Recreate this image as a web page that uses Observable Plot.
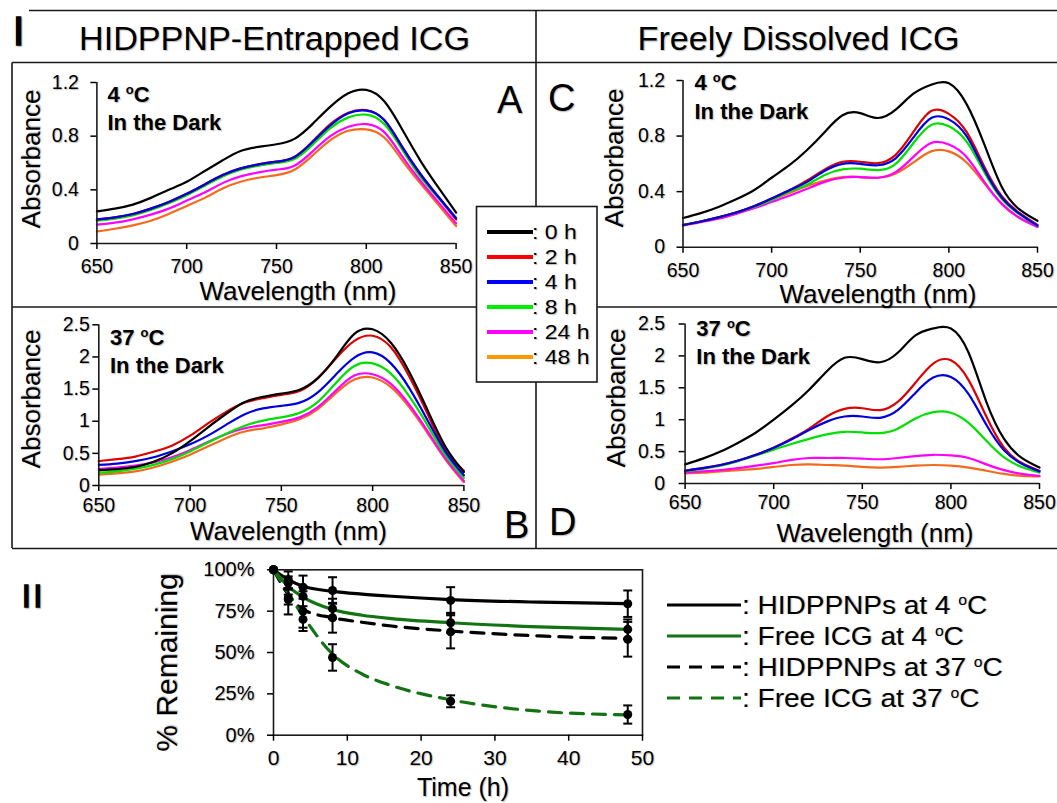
<!DOCTYPE html>
<html><head><meta charset="utf-8">
<script src="https://cdn.jsdelivr.net/npm/d3@7"></script>
<script src="https://cdn.jsdelivr.net/npm/@observablehq/plot@0.6"></script>
<style>
html,body{margin:0;padding:0;background:#fff;}
#fig{position:relative;width:1057px;height:803px;overflow:hidden;font-family:"Liberation Sans",Arial,sans-serif;background:#fff;}
#fig svg{position:absolute;left:0;top:0;overflow:visible;}
#fig svg text{text-shadow:1px 1px 1.2px rgba(0,0,0,0.28);}
</style></head><body><div id="fig"></div>
<script>
// ---------- DATA ----------
const wavelengths = [650,660,670,680,690,700,710,720,730,740,750,760,770,780,790,800,810,820,830,840,850];
const hours = [0,2,4,8,24,48];
const hourLabels = ["0 h","2 h","4 h","8 h","24 h","48 h"];
const wlTicks = [650,700,750,800,850];
const absTicksLow = [0,0.4,0.8,1.2];
const absTicksHigh = [0,0.5,1,1.5,2,2.5];

// Panel A: HIDPPNP-entrapped ICG, 4 oC (rows = 0,2,4,8,24,48 h)
const entrapped4C = [
 [0.24,0.26,0.29,0.34,0.40,0.46,0.54,0.62,0.69,0.72,0.74,0.78,0.89,1.02,1.12,1.145,1.06,0.85,0.62,0.42,0.23],
 [0.18,0.195,0.22,0.26,0.31,0.37,0.44,0.51,0.56,0.59,0.61,0.645,0.76,0.89,0.975,0.995,0.92,0.72,0.52,0.35,0.18],
 [0.18,0.195,0.22,0.26,0.31,0.37,0.44,0.51,0.56,0.59,0.61,0.645,0.755,0.88,0.97,0.99,0.92,0.72,0.52,0.35,0.19],
 [0.17,0.185,0.21,0.25,0.30,0.36,0.43,0.50,0.55,0.58,0.60,0.63,0.735,0.86,0.94,0.96,0.89,0.70,0.50,0.34,0.18],
 [0.14,0.155,0.18,0.215,0.26,0.32,0.38,0.45,0.50,0.53,0.55,0.58,0.685,0.80,0.87,0.89,0.83,0.65,0.47,0.31,0.15],
 [0.09,0.11,0.135,0.17,0.22,0.28,0.34,0.41,0.46,0.49,0.51,0.55,0.655,0.77,0.84,0.85,0.79,0.62,0.45,0.29,0.13]
];
// Panel B: HIDPPNP-entrapped ICG, 37 oC
const entrapped37C = [
 [0.24,0.255,0.29,0.37,0.50,0.69,0.91,1.12,1.30,1.38,1.43,1.49,1.67,2.00,2.36,2.43,2.22,1.77,1.18,0.60,0.21],
 [0.38,0.41,0.45,0.525,0.62,0.775,0.97,1.15,1.29,1.36,1.41,1.47,1.67,1.98,2.25,2.33,2.15,1.70,1.12,0.55,0.23],
 [0.32,0.34,0.38,0.44,0.53,0.64,0.78,0.95,1.11,1.20,1.24,1.29,1.45,1.73,1.99,2.07,1.90,1.52,1.02,0.52,0.16],
 [0.20,0.22,0.26,0.32,0.41,0.53,0.67,0.81,0.93,1.01,1.06,1.13,1.30,1.60,1.86,1.90,1.74,1.39,0.94,0.47,0.12],
 [0.26,0.28,0.31,0.36,0.44,0.55,0.68,0.80,0.89,0.94,0.99,1.06,1.22,1.48,1.71,1.73,1.58,1.26,0.85,0.42,0.07],
 [0.17,0.19,0.22,0.28,0.37,0.48,0.61,0.74,0.84,0.89,0.95,1.03,1.19,1.44,1.65,1.68,1.53,1.22,0.82,0.40,0.05]
];
// Panel C: freely dissolved ICG, 4 oC
const free4C = [
 [0.21,0.245,0.29,0.345,0.41,0.50,0.59,0.70,0.83,0.95,0.965,0.93,0.99,1.105,1.17,1.18,1.03,0.74,0.43,0.27,0.19],
 [0.16,0.185,0.215,0.25,0.295,0.35,0.41,0.48,0.56,0.615,0.615,0.605,0.665,0.83,0.98,0.96,0.83,0.58,0.365,0.245,0.16],
 [0.16,0.185,0.215,0.25,0.295,0.35,0.41,0.47,0.55,0.60,0.60,0.59,0.64,0.79,0.93,0.92,0.80,0.56,0.355,0.24,0.155],
 [0.16,0.185,0.215,0.25,0.29,0.34,0.40,0.45,0.52,0.56,0.565,0.555,0.60,0.75,0.88,0.87,0.76,0.54,0.345,0.235,0.155],
 [0.155,0.18,0.205,0.24,0.28,0.325,0.37,0.42,0.47,0.50,0.505,0.50,0.54,0.65,0.75,0.74,0.65,0.47,0.31,0.21,0.145],
 [0.16,0.185,0.215,0.25,0.29,0.34,0.39,0.44,0.48,0.505,0.505,0.50,0.53,0.61,0.69,0.69,0.61,0.46,0.31,0.21,0.15]
];
// Panel D: freely dissolved ICG, 37 oC
const free37C = [
 [0.30,0.39,0.50,0.64,0.80,1.00,1.22,1.47,1.76,1.97,1.95,1.90,2.05,2.32,2.43,2.43,2.05,1.28,0.70,0.40,0.25],
 [0.20,0.24,0.29,0.36,0.45,0.56,0.70,0.86,1.05,1.17,1.18,1.15,1.28,1.58,1.88,1.93,1.62,1.05,0.56,0.32,0.20],
 [0.20,0.24,0.29,0.36,0.45,0.56,0.69,0.84,0.97,1.05,1.05,1.03,1.15,1.42,1.66,1.67,1.40,0.92,0.52,0.31,0.19],
 [0.19,0.23,0.28,0.35,0.44,0.53,0.62,0.70,0.77,0.81,0.80,0.79,0.86,1.02,1.12,1.11,0.95,0.67,0.41,0.26,0.17],
 [0.17,0.19,0.21,0.24,0.28,0.32,0.37,0.40,0.40,0.40,0.39,0.38,0.40,0.43,0.45,0.44,0.40,0.30,0.21,0.15,0.12],
 [0.16,0.17,0.19,0.21,0.23,0.26,0.29,0.30,0.29,0.28,0.26,0.25,0.26,0.28,0.29,0.28,0.25,0.20,0.15,0.12,0.11]
];

// Part II: % remaining vs time
const sampleTimes = [0,2,4,8,24,48];
const timeTicks = [0,10,20,30,40,50];
const pctTicks = [0,25,50,75,100];
const seriesLabels = ["HIDPPNPs at 4","Free ICG at 4","HIDPPNPs at 37","Free ICG at 37"];
const hid4Mean  = [100,94,89.5,87.5,81.5,79.5];
const hid4Err   = [0,5,7,8,8,8];
const free4Mean = [100,92,84,76.5,68,64];
const free4Err  = [0,4,6,6,6,6];
const hid37Mean = [100,83,75,71,62.5,58];
const hid37Err  = [0,10,12,9,10,10.5];
const free37Mean= [100,82,70,47,20.5,12.5];
const free37Err = [0,3,5,8,3.6,5.5];
// fitted curves
const fitTimes  = [0,2,4,8,12,16,24,36,48];
const hid4Fit   = [100,94,90,87,85.3,84,82,80.4,79.5];
const free4Fit  = [100,90,83.5,76,72.5,70.5,68,65.5,64];
const hid37Fit  = [100,85,76,71,68.3,66,63,60,58.5];
const free37Fit = [100,86,72,49,37,30,21.4,14.5,12.3];

// ---------- STYLE ----------
const W = 1057, H = 803;
const FONT = '"Liberation Sans", Arial, Helvetica, sans-serif';
const hourColors = ["#000000","#dd0000","#0000dd","#00e000","#ff00ff","#f46a1c"];
const legendColors = ["#000000","#ff0000","#0000ff","#00ee00","#ff00ff","#ff9900"];
const darkGreen = "#137313";
const seriesStyle = [
  {stroke:"#000", dash:null},
  {stroke:darkGreen, dash:null},
  {stroke:"#000", dash:"13,9"},
  {stroke:darkGreen, dash:"13,9"}
];

const fig = document.getElementById("fig");
const NS = "http://www.w3.org/2000/svg";

// ---------- decorations (borders, titles, labels) ----------
function sup(base, size, shift) {
  return `<tspan font-size="${size}" dy="${-shift}">o</tspan><tspan dy="${shift}">${base}</tspan>`;
}
const deco = `
<svg xmlns="${NS}" width="${W}" height="${H}" font-family='${FONT}'>
 <g stroke="#1a1a1a" stroke-width="1.6" fill="none">
  <path d="M29,10.5H1057 M12,62.5H1057 M536,10V548 M12,62.5V548 M12,307H1057 M12,548.5H1057"/>
 </g>
 <text x="13" y="45" font-size="40" stroke="#000" stroke-width="1.6">I</text>
 <text x="22" y="607" font-size="31" stroke="#000" stroke-width="1.6" letter-spacing="3">II</text>
 <text x="79" y="50" font-size="33" textLength="391" lengthAdjust="spacingAndGlyphs">HIDPPNP-Entrapped ICG</text>
 <text x="637.6" y="50" font-size="33" textLength="322" lengthAdjust="spacingAndGlyphs">Freely Dissolved ICG</text>
 <text x="497" y="113" font-size="38">A</text>
 <text x="504" y="538" font-size="38">B</text>
 <text x="548" y="111" font-size="38">C</text>
 <text x="549" y="535" font-size="38">D</text>
 <g font-size="26" text-anchor="middle">
  <text transform="translate(40,159) rotate(-90)">Absorbance</text>
  <text transform="translate(40,399) rotate(-90)">Absorbance</text>
  <text transform="translate(623,158) rotate(-90)">Absorbance</text>
  <text transform="translate(625,398) rotate(-90)">Absorbance</text>
  <text x="298" y="300">Wavelength (nm)</text>
  <text x="288.5" y="540">Wavelength (nm)</text>
  <text x="878" y="302.5">Wavelength (nm)</text>
  <text x="875" y="542">Wavelength (nm)</text>
 </g>
 <g font-size="22" font-weight="bold">
  <text x="107.5" y="102">4 ${sup("C",13,8)}</text>
  <text x="107.5" y="130">In the Dark</text>
  <text x="110" y="345">37 ${sup("C",13,8)}</text>
  <text x="110" y="372.5">In the Dark</text>
  <text x="694.5" y="89.5">4 ${sup("C",13,8)}</text>
  <text x="694.5" y="118.5">In the Dark</text>
  <text x="696.3" y="335.5">37 ${sup("C",13,8)}</text>
  <text x="696.3" y="364">In the Dark</text>
 </g>
 <text transform="translate(177,662.5) rotate(-90)" font-size="30" text-anchor="middle">% Remaining</text>
 <text x="463" y="796" font-size="25" text-anchor="middle">Time (h)</text>
</svg>`;
fig.insertAdjacentHTML("beforeend", deco);

// ---------- spectra panels ----------
function spectrum(rows, frame, yMax, yTicks, padX, padY) {
  const [x0, x1, y0, y1] = frame;
  const data = [];
  // draw order: 48,24,8,2,4,0 h (0 h on top)
  [5,4,3,1,2,0].forEach(i => rows[i].forEach((v, j) => data.push({wl: wavelengths[j], abs: v, hour: hours[i]})));
  return Plot.plot({
    width: W, height: H,
    marginLeft: x0, marginRight: W - x1, marginTop: y0, marginBottom: H - y1,
    style: {background: "transparent", overflow: "visible", fontFamily: FONT, color: "#000"},
    x: {domain: [650, 850]},
    y: {domain: [0, yMax]},
    color: {domain: hours, range: hourColors},
    marks: [
      Plot.line(data, {x: "wl", y: "abs", z: "hour", stroke: "hour", strokeWidth: 2.2, curve: "natural"}),
      Plot.ruleX([650], {stroke: "#1a1a1a", strokeWidth: 1.6}),
      Plot.ruleY([0], {stroke: "#1a1a1a", strokeWidth: 1.6}),
      Plot.axisX({ticks: wlTicks, tickSize: 6, tickPadding: padX, fontSize: 19.5, label: null, tickFormat: d => String(d), strokeWidth: 1.5}),
      Plot.axisY({ticks: yTicks, tickSize: 6, tickPadding: padY, fontSize: 19.5, label: null, tickFormat: d => String(d), strokeWidth: 1.5})
    ]
  });
}
fig.append(spectrum(entrapped4C, [96.4, 455.6, 82, 243], 1.2, absTicksLow, 9.3, 12));
fig.append(spectrum(entrapped37C, [98.3, 463.4, 324.3, 485], 2.5, absTicksHigh, 6.5, 3));
fig.append(spectrum(free4C, [682.5, 1037, 80, 246.7], 1.2, absTicksLow, 9.6, 12));
fig.append(spectrum(free37C, [684.6, 1039, 323.5, 483], 2.5, absTicksHigh, 6, 14));

// ---------- Part II ----------
const means = [hid4Mean, free4Mean, hid37Mean, free37Mean];
const errs = [hid4Err, free4Err, hid37Err, free37Err];
const fits = [hid4Fit, free4Fit, hid37Fit, free37Fit];
const points = [];
means.forEach((m, s) => m.forEach((v, i) => points.push({t: sampleTimes[i], v, lo: v - errs[s][i], hi: v + errs[s][i], err: errs[s][i], s})));
const bars = points.filter(d => d.err > 0);
const capSymbol = {draw(ctx, size) { const r = Math.sqrt(size / Math.PI); ctx.moveTo(-r, 0); ctx.lineTo(r, 0); }};

const fitMarks = fits.map((f, s) => Plot.line(f.map((v, i) => ({t: fitTimes[i], v})), {
  x: "t", y: "v", stroke: seriesStyle[s].stroke, strokeWidth: 3.2,
  strokeDasharray: seriesStyle[s].dash || undefined, curve: "monotone-x"
}));

fig.append(Plot.plot({
  width: W, height: H,
  marginLeft: 273, marginRight: W - 642, marginTop: 569.3, marginBottom: H - 734.7,
  style: {background: "transparent", overflow: "visible", fontFamily: FONT, color: "#000"},
  x: {domain: [0, 50]},
  y: {domain: [0, 100]},
  marks: [
    Plot.frame({stroke: "#1a1a1a", strokeWidth: 1.6}),
    Plot.axisX({ticks: timeTicks, tickSize: 6, tickPadding: 9.3, fontSize: 21, label: null, strokeWidth: 1.5}),
    Plot.axisY({ticks: pctTicks, tickSize: 6, tickPadding: 13, fontSize: 20, label: null, tickFormat: d => d + "%", strokeWidth: 1.5}),
    ...fitMarks,
    Plot.ruleX(bars, {x: "t", y1: "lo", y2: "hi", stroke: "#000", strokeWidth: 2}),
    Plot.dot(bars, {x: "t", y: "lo", symbol: capSymbol, r: 4.5, stroke: "#000", strokeWidth: 2, fill: "none"}),
    Plot.dot(bars, {x: "t", y: "hi", symbol: capSymbol, r: 4.5, stroke: "#000", strokeWidth: 2, fill: "none"}),
    Plot.dot(points, {x: "t", y: "v", r: 4.5, fill: "#000", stroke: "none"})
  ]
}));

// ---------- legends ----------
let leg1 = `<svg xmlns="${NS}" width="${W}" height="${H}" font-family='${FONT}'>
 <rect x="476.5" y="206.5" width="120.5" height="175.5" fill="#fff" stroke="#1a1a1a" stroke-width="1.6"/>`;
hours.forEach((h, i) => {
  const cy = 232 + i * 25;
  leg1 += `<line x1="487" x2="533" y1="${cy}" y2="${cy}" stroke="${legendColors[i]}" stroke-width="4"/>`;
  leg1 += `<text transform="translate(532,${cy + 7.3}) scale(1.15,1)" font-size="20">: ${hourLabels[i]}</text>`;
});
leg1 += `</svg>`;
fig.insertAdjacentHTML("beforeend", leg1);

let leg2 = `<svg xmlns="${NS}" width="${W}" height="${H}" font-family='${FONT}'>`;
seriesLabels.forEach((lab, s) => {
  const cy = 605 + s * 31;
  const st = seriesStyle[s];
  leg2 += `<line x1="667" x2="741" y1="${cy}" y2="${cy}" stroke="${st.stroke}" stroke-width="3.2" ${st.dash ? `stroke-dasharray="${st.dash}"` : ""}/>`;
  leg2 += `<text transform="translate(742,${cy + 8.5}) scale(1.12,1)" font-size="25">: ${lab} ${sup("C", 14, 9)}</text>`;
});
leg2 += `</svg>`;
fig.insertAdjacentHTML("beforeend", leg2);
</script>
</body></html>
